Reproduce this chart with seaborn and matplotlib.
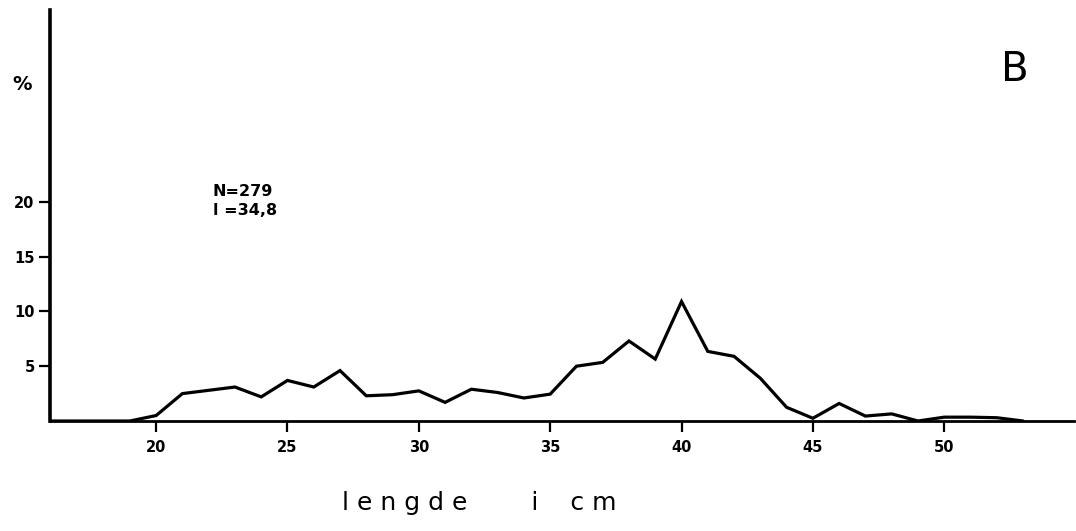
import matplotlib
matplotlib.use("Agg")
import matplotlib.pyplot as plt
import seaborn as sns
import pandas as pd

# Length distribution (cm) and share of the catch (%)
lengths = [16, 17, 18, 19, 20, 21, 22, 23, 24, 25, 26, 27, 28, 29, 30, 31, 32,
           33, 34, 35, 36, 37, 38, 39, 40, 41, 42, 43, 44, 45, 46, 47, 48, 49,
           50, 51, 52, 53]
percent = [0, 0, 0, 0, 0.5, 2.5, 2.8, 3.1, 2.2, 3.7, 3.1, 4.6, 2.3, 2.4, 2.75,
           1.7, 2.9, 2.6, 2.1, 2.45, 5.0, 5.35, 7.3, 5.65, 10.9, 6.35, 5.9, 3.9,
           1.25, 0.25, 1.6, 0.45, 0.65, 0.0, 0.35, 0.35, 0.3, 0.0]

x_ticks = [20, 25, 30, 35, 40, 45, 50]
y_ticks = [5, 10, 15, 20]
panel_label = "B"
stats_text = "N=279\nl =34,8"
x_label = "l e n g d e        i    c m"
y_label = "%"

sns.set_theme(style="ticks")
plt.rcParams["font.family"] = ["DejaVu Sans"]
plt.rcParams["text.color"] = "black"
plt.rcParams["xtick.color"] = "black"
plt.rcParams["ytick.color"] = "black"

df = pd.DataFrame({"lengde": lengths, "prosent": percent})

fig = plt.figure(figsize=(10.76, 5.31), dpi=100)
ax = fig.add_axes([50 / 1076, 1 - 421 / 531, 1024 / 1076, 411 / 531])

sns.lineplot(data=df, x="lengde", y="prosent", ax=ax, color="black",
             linewidth=2.3, solid_joinstyle="miter")

ax.set_xlim(15.96, 54.94)
ax.set_ylim(0, 37.5)
ax.set_xticks(x_ticks)
ax.set_yticks(y_ticks)
ax.set_xticklabels([str(v) for v in x_ticks], fontsize=10.5, fontweight="bold")
ax.set_yticklabels([str(v) for v in y_ticks], fontsize=10.5, fontweight="bold")
ax.tick_params(axis="y", direction="out", length=8, width=1.6, pad=3,
               colors="black")
ax.tick_params(axis="x", direction="out", length=8, width=1.6, pad=6,
               colors="black")
ax.set_xlabel("")
ax.set_ylabel("")

for side in ("top", "right"):
    ax.spines[side].set_visible(False)
ax.spines["left"].set_linewidth(2.6)
ax.spines["bottom"].set_linewidth(2.0)
ax.spines["left"].set_color("black")
ax.spines["bottom"].set_color("black")

fig.text(22 / 1076, 1 - 84 / 531, y_label, fontsize=14, fontweight="bold",
         ha="center", va="center")
fig.text(1015 / 1076, 1 - 70 / 531, panel_label, fontsize=29,
         ha="center", va="center")
fig.text(213 / 1076, 1 - 184 / 531, stats_text, fontsize=11.5,
         fontweight="bold", ha="left", va="top", linespacing=1.3)
fig.text(479 / 1076, 1 - 503 / 531, x_label, fontsize=18,
         ha="center", va="center")

fig.savefig("out.png", dpi=100, facecolor="white")
